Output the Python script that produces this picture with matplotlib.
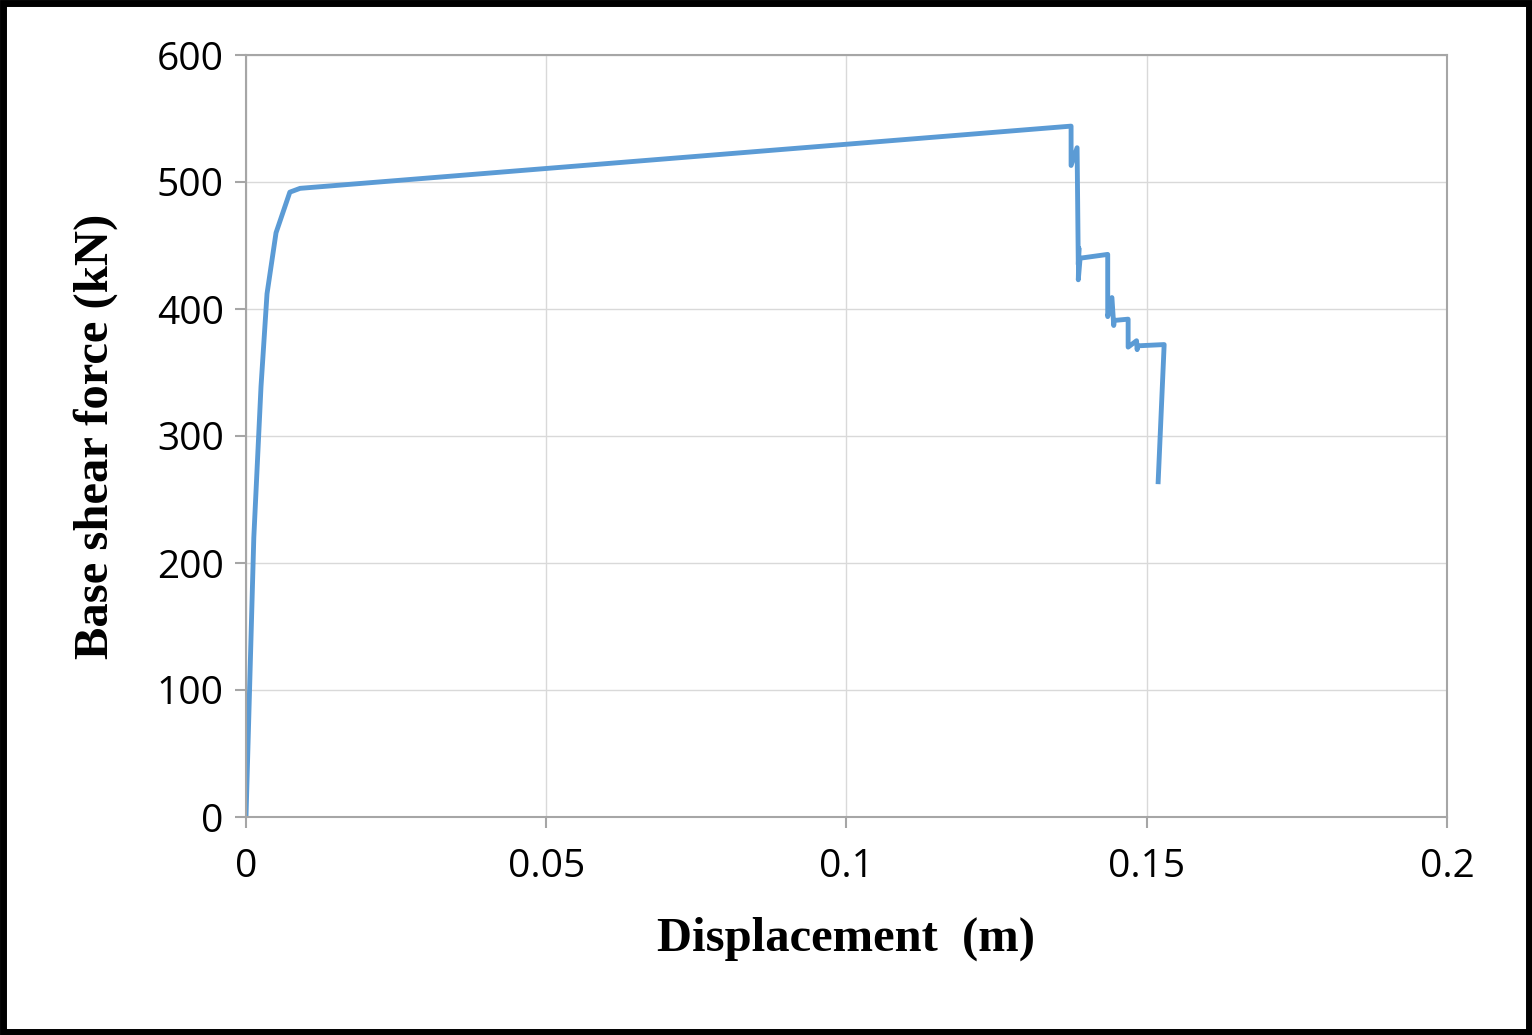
import matplotlib
matplotlib.use("Agg")
import matplotlib.pyplot as plt
from matplotlib.patches import Rectangle

disp = [0, 0.0013, 0.0025, 0.0035, 0.005, 0.0073, 0.009, 0.1374, 0.1374, 0.1384, 0.1386,
        0.1387, 0.1386, 0.1389, 0.1435, 0.1435, 0.1442, 0.1445, 0.1446, 0.1469, 0.1469,
        0.1483, 0.1484, 0.1485, 0.1529, 0.1519]
force = [0, 220, 339, 412, 460, 492, 495, 544, 513, 527, 435,
         448, 423, 440, 443, 394, 409, 387, 391, 392, 370,
         375, 368, 371, 372, 264]

fig = plt.figure(figsize=(15.32, 10.35), dpi=100)
ax = fig.add_axes([246/1532, 1-817/1035, (1447-246)/1532, (817-55)/1035])
ax.plot(disp, force, color="#5B9BD5", lw=3.5)
ax.set_xlim(0, 0.2)
ax.set_ylim(0, 600)
ax.set_xticks([0, 0.05, 0.1, 0.15, 0.2])
ax.set_xticklabels(["0", "0.05", "0.1", "0.15", "0.2"])
ax.set_yticks(range(0, 601, 100))
ax.grid(True, color="#D9D9D9", lw=1)
ax.set_axisbelow(True)
for s in ax.spines.values():
    s.set_color("#A6A6A6")
    s.set_linewidth(1.5)
ax.tick_params(axis="both", labelsize=28, color="#A6A6A6", length=8, width=1.5, pad=8)
ax.tick_params(axis="x", direction="out", pad=14)
for lab in ax.get_xticklabels() + ax.get_yticklabels():
    lab.set_family("Open Sans")
ax.set_xlabel("Displacement  (m)", fontsize=35, fontweight="bold", family="Liberation Serif", labelpad=22)
ax.set_ylabel("Base shear force (kN)", fontsize=35, fontweight="bold", family="Liberation Serif", labelpad=28)
fig.patches.append(Rectangle((0.002, 0.003), 0.996, 0.994, transform=fig.transFigure,
                             fill=False, edgecolor="black", lw=5))
fig.savefig("out.png", dpi=100)
